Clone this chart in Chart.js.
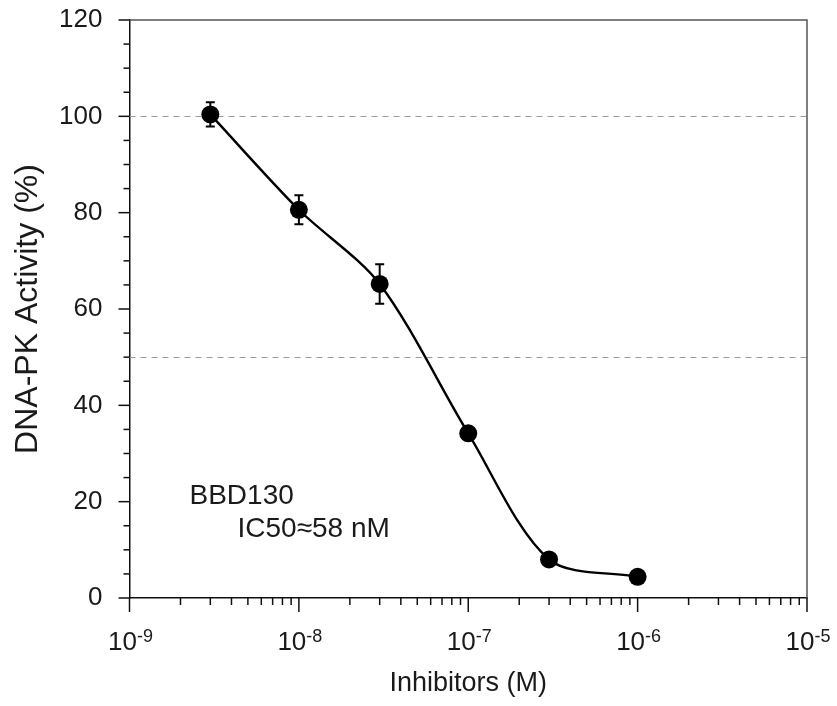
<!DOCTYPE html>
<html>
<head>
<meta charset="utf-8">
<script src="https://cdn.jsdelivr.net/npm/chart.js@4.4.1/dist/chart.umd.min.js"></script>
<style>
  html, body { margin: 0; padding: 0; background: #ffffff; }
  #wrap { width: 837px; height: 706px; }
</style>
</head>
<body>
<div id="wrap"><canvas id="c" width="837" height="706"></canvas></div>
<script>
// ---- data ----
const concentrations = [3e-9, 1e-8, 3e-8, 1e-7, 3e-7, 1e-6];
const activity = [100.4, 80.6, 65.2, 34.2, 8.0, 4.4];
const errors = [2.5, 3.0, 4.1, 0, 0, 0];
const yTickValues = [0, 20, 40, 60, 80, 100, 120];
const xTickExponents = ['-9', '-8', '-7', '-6', '-5'];
const referenceLines = [50, 100];
const annotationLine1 = 'BBD130';
const annotationLine2 = 'IC50\u224858 nM';
const xTitle = 'Inhibitors (M)';
const yTitle = 'DNA-PK Activity (%)';

const FONT = '"Liberation Sans", Arial, Helvetica, sans-serif';
const TEXT = '#1a1a1a';

const points = concentrations.map((c, i) => ({ x: c, y: activity[i] }));

const decorations = {
  id: 'decorations',
  beforeDatasetsDraw(chart) {
    const { ctx, chartArea: a, scales: { x, y } } = chart;
    ctx.save();
    // dashed reference lines
    ctx.strokeStyle = '#9a9a9a';
    ctx.lineWidth = 1;
    ctx.setLineDash([6, 5]);
    referenceLines.forEach(v => {
      const py = Math.round(y.getPixelForValue(v)) + 0.5;
      ctx.beginPath();
      ctx.moveTo(a.left, py);
      ctx.lineTo(a.right, py);
      ctx.stroke();
    });
    ctx.setLineDash([]);
    // top and right frame
    ctx.strokeStyle = '#555555';
    ctx.lineWidth = 1.5;
    ctx.beginPath();
    ctx.moveTo(a.left, a.top);
    ctx.lineTo(a.right, a.top);
    ctx.lineTo(a.right, a.bottom);
    ctx.stroke();
    // y ticks (major + minor, outward)
    ctx.strokeStyle = '#111111';
    ctx.lineWidth = 1.5;
    for (let v = 0; v <= 120; v += 5) {
      const py = y.getPixelForValue(v);
      const len = (v % 20 === 0) ? 11 : 6;
      ctx.beginPath();
      ctx.moveTo(a.left, py);
      ctx.lineTo(a.left - len, py);
      ctx.stroke();
    }
    // x ticks (decades + minor)
    xTickExponents.forEach((e, i) => {
      const base = Math.pow(10, parseInt(e, 10));
      const px = x.getPixelForValue(base);
      ctx.beginPath();
      ctx.moveTo(px, a.bottom);
      ctx.lineTo(px, a.bottom + 14);
      ctx.stroke();
      if (i < xTickExponents.length - 1) {
        for (let m = 2; m <= 9; m++) {
          const mx = x.getPixelForValue(base * m);
          ctx.beginPath();
          ctx.moveTo(mx, a.bottom);
          ctx.lineTo(mx, a.bottom + 7);
          ctx.stroke();
        }
      }
    });
    // x tick labels 10^n
    ctx.fillStyle = TEXT;
    ctx.textBaseline = 'alphabetic';
    ctx.textAlign = 'left';
    xTickExponents.forEach(e => {
      const px = x.getPixelForValue(Math.pow(10, parseInt(e, 10)));
      ctx.font = '26px ' + FONT;
      const wb = ctx.measureText('10').width;
      ctx.font = '18px ' + FONT;
      const we = ctx.measureText(e).width;
      const start = px - (wb + we) / 2 + 1;
      ctx.font = '26px ' + FONT;
      ctx.fillText('10', start, a.bottom + 52);
      ctx.font = '18px ' + FONT;
      ctx.fillText(e, start + wb, a.bottom + 44);
    });
    // annotation
    ctx.font = '28px ' + FONT;
    ctx.textBaseline = 'middle';
    ctx.fillText(annotationLine1, a.left + 60, 496);
    ctx.fillText(annotationLine2, a.left + 108, 529);
    ctx.restore();
  },
  afterDatasetsDraw(chart) {
    const { ctx, scales: { x, y } } = chart;
    ctx.save();
    ctx.strokeStyle = '#000000';
    ctx.lineWidth = 2;
    concentrations.forEach((c, i) => {
      if (!errors[i]) return;
      const px = x.getPixelForValue(c);
      const top = y.getPixelForValue(activity[i] + errors[i]);
      const bot = y.getPixelForValue(activity[i] - errors[i]);
      ctx.beginPath();
      ctx.moveTo(px, top); ctx.lineTo(px, bot);
      ctx.moveTo(px - 4.5, top); ctx.lineTo(px + 4.5, top);
      ctx.moveTo(px - 4.5, bot); ctx.lineTo(px + 4.5, bot);
      ctx.stroke();
    });
    ctx.restore();
  }
};

new Chart(document.getElementById('c'), {
  type: 'line',
  data: {
    datasets: [{
      data: points,
      borderColor: '#000000',
      borderWidth: 2.4,
      backgroundColor: '#000000',
      pointBackgroundColor: '#000000',
      pointBorderColor: '#000000',
      pointRadius: 9,
      pointBorderWidth: 0,
      tension: 0.3,
      fill: false
    }]
  },
  options: {
    responsive: false,
    animation: false,
    devicePixelRatio: 1,
    layout: { padding: { top: 20, right: 30, left: 0, bottom: 0 } },
    plugins: { legend: { display: false }, tooltip: { enabled: false } },
    scales: {
      x: {
        type: 'logarithmic',
        min: 1e-9,
        max: 1e-5,
        grid: { display: false, drawTicks: false },
        border: { display: true, color: '#111111', width: 1.5 },
        ticks: { display: false },
        title: {
          display: true,
          text: xTitle,
          color: TEXT,
          font: { family: FONT, size: 27 },
          padding: { top: 0, bottom: 6 }
        },
        afterFit(s) { s.height = 108; s.paddingLeft = 0; s.paddingRight = 0; }
      },
      y: {
        type: 'linear',
        min: 0,
        max: 120,
        afterBuildTicks(s) { s.ticks = yTickValues.map(v => ({ value: v })); },
        grid: { display: false, drawTicks: false },
        border: { display: true, color: '#111111', width: 1.5 },
        ticks: {
          color: TEXT,
          font: { family: FONT, size: 26 },
          padding: 27,
          autoSkip: false
        },
        title: {
          display: true,
          text: yTitle,
          color: TEXT,
          font: { family: FONT, size: 32 },
          padding: { top: 9, bottom: 0 }
        },
        afterFit(s) { s.width = 129.5; s.paddingTop = 0; s.paddingBottom = 0; }
      }
    }
  },
  plugins: [decorations]
});
</script>
</body>
</html>
